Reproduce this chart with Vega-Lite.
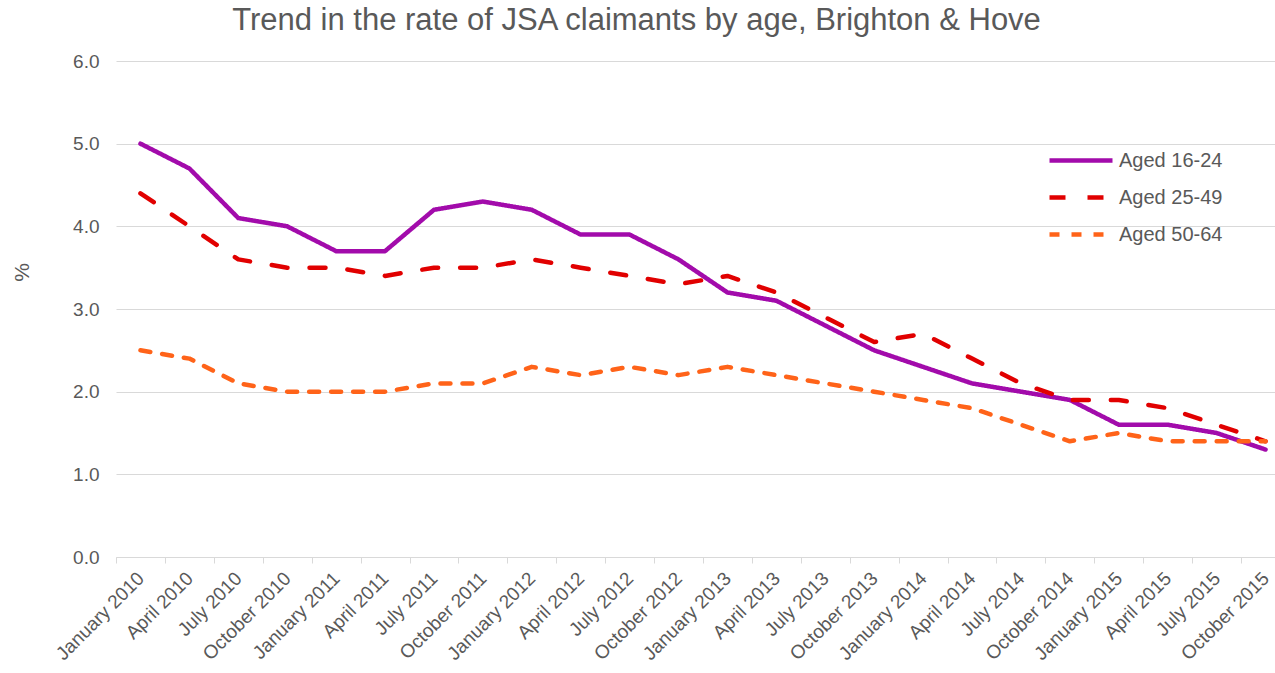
{
  "$schema": "https://vega.github.io/schema/vega-lite/v6.json",
  "autosize": {"type": "none"},
  "padding": {"left": 116, "top": 61, "right": 0, "bottom": 116},
  "width": 1159,
  "height": 496,
  "background": "white",
  "title": {
    "text": "Trend in the rate of JSA claimants by age, Brighton & Hove",
    "font": "Liberation Sans",
    "fontSize": 31,
    "fontWeight": "normal",
    "color": "#595959",
    "anchor": "middle",
    "dx": -59,
    "offset": 15
  },
  "config": {
    "view": {"stroke": null},
    "font": "Liberation Sans"
  },
  "data": {
    "values": [
      {"period": "January 2010", "group": "Aged 16-24", "rate": 5.0},
      {"period": "April 2010", "group": "Aged 16-24", "rate": 4.7},
      {"period": "July 2010", "group": "Aged 16-24", "rate": 4.1},
      {"period": "October 2010", "group": "Aged 16-24", "rate": 4.0},
      {"period": "January 2011", "group": "Aged 16-24", "rate": 3.7},
      {"period": "April 2011", "group": "Aged 16-24", "rate": 3.7},
      {"period": "July 2011", "group": "Aged 16-24", "rate": 4.2},
      {"period": "October 2011", "group": "Aged 16-24", "rate": 4.3},
      {"period": "January 2012", "group": "Aged 16-24", "rate": 4.2},
      {"period": "April 2012", "group": "Aged 16-24", "rate": 3.9},
      {"period": "July 2012", "group": "Aged 16-24", "rate": 3.9},
      {"period": "October 2012", "group": "Aged 16-24", "rate": 3.6},
      {"period": "January 2013", "group": "Aged 16-24", "rate": 3.2},
      {"period": "April 2013", "group": "Aged 16-24", "rate": 3.1},
      {"period": "July 2013", "group": "Aged 16-24", "rate": 2.8},
      {"period": "October 2013", "group": "Aged 16-24", "rate": 2.5},
      {"period": "January 2014", "group": "Aged 16-24", "rate": 2.3},
      {"period": "April 2014", "group": "Aged 16-24", "rate": 2.1},
      {"period": "July 2014", "group": "Aged 16-24", "rate": 2.0},
      {"period": "October 2014", "group": "Aged 16-24", "rate": 1.9},
      {"period": "January 2015", "group": "Aged 16-24", "rate": 1.6},
      {"period": "April 2015", "group": "Aged 16-24", "rate": 1.6},
      {"period": "July 2015", "group": "Aged 16-24", "rate": 1.5},
      {"period": "October 2015", "group": "Aged 16-24", "rate": 1.3},
      {"period": "January 2010", "group": "Aged 25-49", "rate": 4.4},
      {"period": "April 2010", "group": "Aged 25-49", "rate": 4.0},
      {"period": "July 2010", "group": "Aged 25-49", "rate": 3.6},
      {"period": "October 2010", "group": "Aged 25-49", "rate": 3.5},
      {"period": "January 2011", "group": "Aged 25-49", "rate": 3.5},
      {"period": "April 2011", "group": "Aged 25-49", "rate": 3.4},
      {"period": "July 2011", "group": "Aged 25-49", "rate": 3.5},
      {"period": "October 2011", "group": "Aged 25-49", "rate": 3.5},
      {"period": "January 2012", "group": "Aged 25-49", "rate": 3.6},
      {"period": "April 2012", "group": "Aged 25-49", "rate": 3.5},
      {"period": "July 2012", "group": "Aged 25-49", "rate": 3.4},
      {"period": "October 2012", "group": "Aged 25-49", "rate": 3.3},
      {"period": "January 2013", "group": "Aged 25-49", "rate": 3.4},
      {"period": "April 2013", "group": "Aged 25-49", "rate": 3.2},
      {"period": "July 2013", "group": "Aged 25-49", "rate": 2.9},
      {"period": "October 2013", "group": "Aged 25-49", "rate": 2.6},
      {"period": "January 2014", "group": "Aged 25-49", "rate": 2.7},
      {"period": "April 2014", "group": "Aged 25-49", "rate": 2.4},
      {"period": "July 2014", "group": "Aged 25-49", "rate": 2.1},
      {"period": "October 2014", "group": "Aged 25-49", "rate": 1.9},
      {"period": "January 2015", "group": "Aged 25-49", "rate": 1.9},
      {"period": "April 2015", "group": "Aged 25-49", "rate": 1.8},
      {"period": "July 2015", "group": "Aged 25-49", "rate": 1.6},
      {"period": "October 2015", "group": "Aged 25-49", "rate": 1.4},
      {"period": "January 2010", "group": "Aged 50-64", "rate": 2.5},
      {"period": "April 2010", "group": "Aged 50-64", "rate": 2.4},
      {"period": "July 2010", "group": "Aged 50-64", "rate": 2.1},
      {"period": "October 2010", "group": "Aged 50-64", "rate": 2.0},
      {"period": "January 2011", "group": "Aged 50-64", "rate": 2.0},
      {"period": "April 2011", "group": "Aged 50-64", "rate": 2.0},
      {"period": "July 2011", "group": "Aged 50-64", "rate": 2.1},
      {"period": "October 2011", "group": "Aged 50-64", "rate": 2.1},
      {"period": "January 2012", "group": "Aged 50-64", "rate": 2.3},
      {"period": "April 2012", "group": "Aged 50-64", "rate": 2.2},
      {"period": "July 2012", "group": "Aged 50-64", "rate": 2.3},
      {"period": "October 2012", "group": "Aged 50-64", "rate": 2.2},
      {"period": "January 2013", "group": "Aged 50-64", "rate": 2.3},
      {"period": "April 2013", "group": "Aged 50-64", "rate": 2.2},
      {"period": "July 2013", "group": "Aged 50-64", "rate": 2.1},
      {"period": "October 2013", "group": "Aged 50-64", "rate": 2.0},
      {"period": "January 2014", "group": "Aged 50-64", "rate": 1.9},
      {"period": "April 2014", "group": "Aged 50-64", "rate": 1.8},
      {"period": "July 2014", "group": "Aged 50-64", "rate": 1.6},
      {"period": "October 2014", "group": "Aged 50-64", "rate": 1.4},
      {"period": "January 2015", "group": "Aged 50-64", "rate": 1.5},
      {"period": "April 2015", "group": "Aged 50-64", "rate": 1.4},
      {"period": "July 2015", "group": "Aged 50-64", "rate": 1.4},
      {"period": "October 2015", "group": "Aged 50-64", "rate": 1.4}
    ]
  },
  "mark": {"type": "line", "strokeWidth": 4.5, "strokeCap": "round", "strokeJoin": "round"},
  "encoding": {
    "x": {
      "field": "period",
      "type": "ordinal",
      "sort": null,
      "scale": {"type": "band", "paddingInner": 0, "paddingOuter": 0, "range": [0, 1174]},
      "axis": {
        "title": null,
        "tickBand": "extent",
        "ticks": true,
        "tickSize": 6,
        "tickColor": "#d9d9d9",
        "tickWidth": 1,
        "domainColor": "#d9d9d9",
        "domainWidth": 1,
        "grid": false,
        "labelAngle": -45,
        "labelAlign": "right",
        "labelBaseline": "middle",
        "labelPadding": 12,
        "labelFontSize": 19,
        "labelColor": "#595959",
        "labelFont": "Liberation Sans",
        "labelOverlap": false
      }
    },
    "y": {
      "field": "rate",
      "type": "quantitative",
      "scale": {"domain": [0, 6], "nice": false, "zero": true},
      "axis": {
        "title": "%",
        "titleFont": "Liberation Sans",
        "titleFontSize": 21,
        "titleFontWeight": "normal",
        "titleColor": "#595959",
        "titleX": -94,
        "titleY": 211,
        "titleAngle": -90,
        "titleAlign": "center",
        "titleBaseline": "middle",
        "values": [0, 1, 2, 3, 4, 5, 6],
        "format": ".1f",
        "domain": false,
        "ticks": false,
        "tickSize": 0,
        "labelPadding": 17,
        "labelFontSize": 19,
        "labelColor": "#595959",
        "labelFont": "Liberation Sans",
        "grid": true,
        "gridColor": "#d9d9d9",
        "gridWidth": 1
      }
    },
    "color": {
      "field": "group",
      "type": "nominal",
      "scale": {
        "domain": ["Aged 16-24", "Aged 25-49", "Aged 50-64"],
        "range": ["#A20BAB", "#E10000", "#FF6319"]
      },
      "legend": {
        "title": null,
        "orient": "none",
        "legendX": 931,
        "legendY": 81,
        "symbolType": "stroke",
        "symbolSize": 3969,
        "symbolStrokeWidth": 4.5,
        "labelFontSize": 20,
        "labelColor": "#595959",
        "labelFont": "Liberation Sans",
        "labelOffset": 4,
        "rowPadding": 0,
        "clipHeight": 37
      }
    },
    "strokeDash": {
      "field": "group",
      "type": "nominal",
      "scale": {
        "domain": ["Aged 16-24", "Aged 25-49", "Aged 50-64"],
        "range": [[1, 0], [16, 22], [10, 12]]
      },
      "legend": {
        "title": null,
        "orient": "none",
        "legendX": 931,
        "legendY": 81,
        "symbolType": "stroke",
        "symbolSize": 3969,
        "symbolStrokeWidth": 4.5,
        "labelFontSize": 20,
        "labelColor": "#595959",
        "labelFont": "Liberation Sans",
        "labelOffset": 4,
        "rowPadding": 0,
        "clipHeight": 37
      }
    }
  }
}
